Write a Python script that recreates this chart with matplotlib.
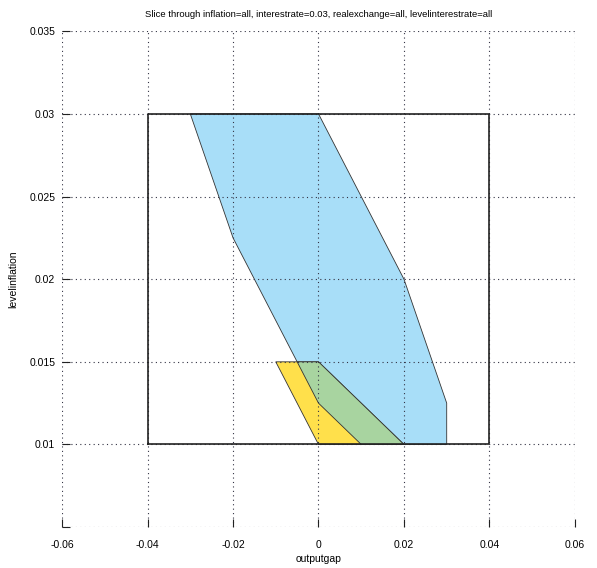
import numpy as np
import matplotlib
matplotlib.use("Agg")
import matplotlib.pyplot as plt
from matplotlib.patches import Polygon

plt.rcParams['font.family'] = ['Liberation Sans', 'DejaVu Sans']

# polytope vertices (outputgap, levelinflation)
bound_x = [-0.04, 0.04, 0.04, -0.04, -0.04]
bound_y = [0.01, 0.01, 0.03, 0.03, 0.01]

blue_x = [-0.03, 0.0, 0.02, 0.03, 0.03, 0.01, 0.0, -0.02]
blue_y = [0.03, 0.03, 0.02, 0.0125, 0.01, 0.01, 0.0125, 0.0225]

yellow_x = [-0.01, 0.0, 0.02, 0.0]
yellow_y = [0.015, 0.015, 0.01, 0.01]

overlap_x = [-0.005, 0.0, 0.02, 0.01, 0.0]
overlap_y = [0.015, 0.015, 0.01, 0.01, 0.0125]

xticks = [-0.06, -0.04, -0.02, 0, 0.02, 0.04, 0.06]
xtick_labels = ['-0.06', '-0.04', '-0.02', '0', '0.02', '0.04', '0.06']
yticks = [0.005, 0.01, 0.015, 0.02, 0.025, 0.03, 0.035]
ytick_labels = ['', '0.01', '0.015', '0.02', '0.025', '0.03', '0.035']

fig = plt.figure(figsize=(5.97, 5.68), dpi=100)
ax = fig.add_axes([0.104, 0.072, 0.859, 0.873])

def add_patch(xs, ys, color):
    ax.add_patch(Polygon(np.column_stack([xs, ys]), closed=True,
                         facecolor=color, edgecolor='#333333',
                         linewidth=0.6, zorder=2))

add_patch(blue_x, blue_y, '#a8def8')
add_patch(yellow_x, yellow_y, '#ffe04b')
add_patch(overlap_x, overlap_y, '#a8d4a0')

ax.plot(bound_x, bound_y, color='#222222', linewidth=1.2, zorder=3)

ax.set_xlim(-0.06, 0.06)
ax.set_ylim(0.005, 0.035)
ax.set_xticks(xticks)
ax.set_xticklabels(xtick_labels)
ax.set_yticks(yticks)
ax.set_yticklabels(ytick_labels)

for s in ax.spines.values():
    s.set_visible(False)

ax.grid(True, linestyle=(0, (1, 3)), color='#333344', linewidth=0.8, zorder=1)
ax.set_axisbelow(False)
ax.tick_params(direction='in', length=6, width=0.8, color='#222222',
               labelsize=7.5)
ax.tick_params(axis='x', pad=9)
ax.tick_params(axis='y', pad=5)

ax.set_xlabel('outputgap', fontsize=7.5, labelpad=3)
ax.set_ylabel('levelinflation', fontsize=7.5, labelpad=8)
ax.set_title('Slice through inflation=all, interestrate=0.03, realexchange=all, levelinterestrate=all',
             fontsize=6.8, pad=10)

fig.savefig('out.png', dpi=100)
